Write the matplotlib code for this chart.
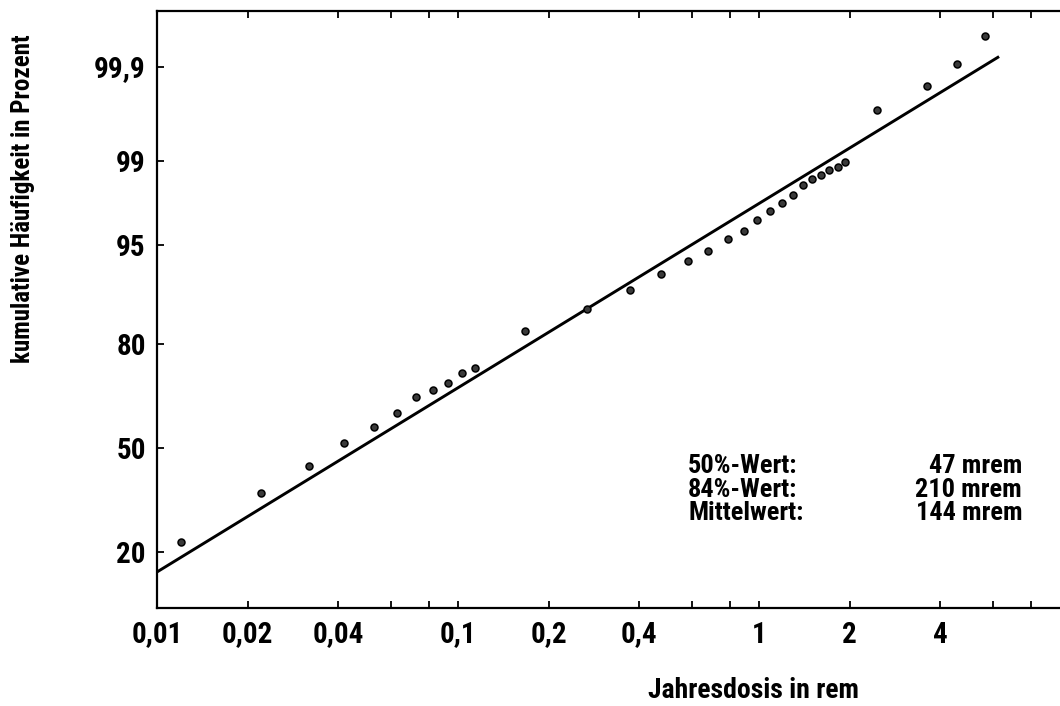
from statistics import NormalDist

import matplotlib
matplotlib.use("Agg")
import matplotlib.pyplot as plt
import numpy as np
from matplotlib.ticker import NullLocator

plt.rcParams["font.family"] = ["Roboto Condensed", "Archivo Narrow", "Barlow Condensed",
                               "Saira SemiCondensed", "DejaVu Sans"]
plt.rcParams["font.weight"] = "bold"

# Jahresdosis (rem) und kumulative Haeufigkeit (%) der Messpunkte
dose = [0.012, 0.0221, 0.0321, 0.0418, 0.0524, 0.0625, 0.0725, 0.0827, 0.0925,
        0.1034, 0.1137, 0.1669, 0.2685, 0.3726, 0.4722, 0.579, 0.678, 0.786,
        0.888, 0.983, 1.085, 1.189, 1.300, 1.396, 1.495, 1.602, 1.712, 1.823,
        1.929, 2.474, 3.615, 4.557, 5.628]
cum_pct = [22.2, 35.7, 44.1, 51.7, 56.6, 61.1, 66.0, 68.0, 70.05, 72.8, 74.2,
           82.8, 86.9, 89.94, 92.09, 93.45, 94.42, 95.46, 96.07, 96.73, 97.24,
           97.64, 97.97, 98.35, 98.54, 98.64, 98.77, 98.86, 98.97, 99.69, 99.83,
           99.906, 99.958]

# Ausgleichsgerade (Log-Normalverteilung)
fit_dose = [0.01, 6.27]
fit_pct = [15.7, 99.924]

x_major = [0.01, 0.02, 0.04, 0.1, 0.2, 0.4, 1, 2, 4]
x_major_labels = ["0,01", "0,02", "0,04", "0,1", "0,2", "0,4", "1", "2", "4"]
x_minor = [0.06, 0.08, 0.6, 0.8, 6, 8]
y_ticks = [20, 50, 80, 95, 99, 99.9]
y_tick_labels = ["20", "50", "80", "95", "99", "99,9"]

stats_names = ["50%-Wert:", "84%-Wert:", "Mittelwert:"]
stats_values = ["47 mrem", "210 mrem", "144 mrem"]

_nd = NormalDist()
_ppf = np.vectorize(_nd.inv_cdf, otypes=[float])
_cdf = np.vectorize(_nd.cdf, otypes=[float])


def probit(p):
    q = np.clip(np.asarray(p, dtype=float) / 100.0, 1e-9, 1 - 1e-9)
    return _ppf(q)


def probit_inv(z):
    return _cdf(np.asarray(z, dtype=float)) * 100.0


fig = plt.figure(figsize=(10.6, 7.06), dpi=100)
ax = fig.add_axes([0.1481, 0.1388, 0.852, 0.8456])

ax.set_xscale("log")
ax.set_yscale("function", functions=(probit, probit_inv))

ax.plot(fit_dose, fit_pct, color="black", linewidth=2.1, solid_capstyle="butt")
ax.plot(dose, cum_pct, linestyle="none", marker="o", markersize=5,
        markerfacecolor="#3a3a3a", markeredgecolor="black", markeredgewidth=1.1)

ax.set_xlim(0.01, 10)
ax.set_ylim(9.7, 99.98)

ax.set_xticks(x_major, x_major_labels, fontsize=21, fontweight="bold")
ax.set_xticks(x_minor, minor=True)
ax.set_yticks(y_ticks, y_tick_labels, fontsize=21, fontweight="bold")
ax.yaxis.set_minor_locator(NullLocator())

ax.tick_params(axis="x", which="both", direction="in", top=True, length=5,
               width=1.3, pad=9)
ax.tick_params(axis="y", which="both", direction="in", right=False, length=5,
               width=1.3, pad=8)

ax.spines["right"].set_visible(False)
for side in ["left", "top", "bottom"]:
    ax.spines[side].set_linewidth(1.6)

ax.set_xlabel("Jahresdosis in rem", fontsize=20, fontweight="bold")
ax.xaxis.set_label_coords(0.66, -0.116)
ax.set_ylabel("kumulative Häufigkeit in Prozent", fontsize=18, fontweight="bold")
ax.yaxis.set_label_coords(-0.135, 0.685)

row_y = [0.2256, 0.1864, 0.1474]
for name, value, yy in zip(stats_names, stats_values, row_y):
    ax.text(0.588, yy, name, transform=ax.transAxes, fontsize=19,
            fontweight="bold", ha="left", va="baseline")
    ax.text(0.958, yy, value, transform=ax.transAxes, fontsize=19,
            fontweight="bold", ha="right", va="baseline")

fig.savefig("out.png", dpi=100)
